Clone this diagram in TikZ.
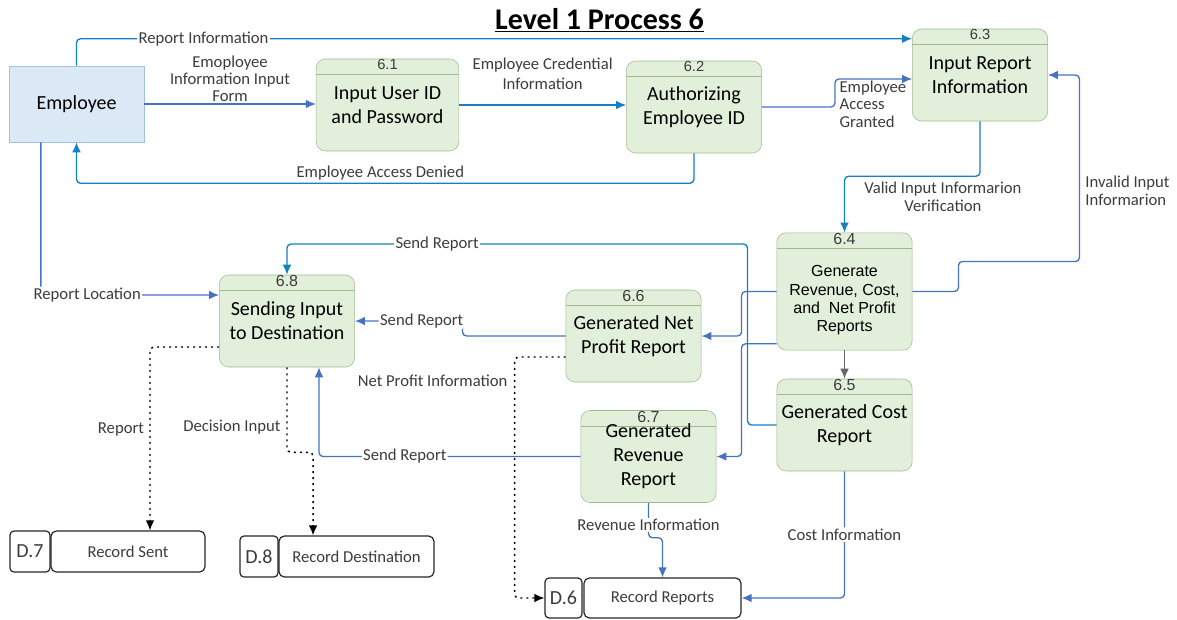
\documentclass[tikz,border=0pt]{standalone}
\usepackage{fontspec}
\setmainfont{Carlito}
\newfontfamily\arialfont{Liberation Sans}
\usetikzlibrary{arrows.meta}
\definecolor{flowA}{RGB}{22,128,194}
\definecolor{flowB}{RGB}{70,114,196}
\definecolor{procfill}{RGB}{226,239,218}
\definecolor{procline}{RGB}{160,184,140}
\definecolor{entfill}{RGB}{219,232,246}
\definecolor{entline}{RGB}{160,192,232}
\definecolor{labgray}{RGB}{60,60,60}
\begin{document}
\begin{tikzpicture}[x=0.75pt, y=-0.75pt, >={Latex[length=7.5pt,width=6.5pt]},
	proc/.style = {draw=procline, fill=procfill, rounded corners=7pt, minimum width=101.5pt, minimum height=69pt, align=center, inner sep=1pt, font=\fontsize{15}{18}\selectfont,
		path picture={\draw[procline] ([yshift=-11.5pt]path picture bounding box.north west) -- ([yshift=-11.5pt]path picture bounding box.north east);}},
	num/.style = {anchor=north, inner sep=0.5pt, text=labgray, font=\arialfont\fontsize{12}{12}\selectfont},
	smallnum/.style = {num, font=\arialfont\fontsize{11}{11}\selectfont},
	ent/.style = {draw=entline, fill=entfill, minimum width=101pt, minimum height=57pt, font=\fontsize{15}{18}\selectfont},
	sid/.style = {draw=black!85, line width=0.9pt, rounded corners=3pt, minimum height=30.75pt, inner sep=1pt, font=\fontsize{15}{17}\selectfont, text=labgray},
	smain/.style = {draw=black!85, line width=0.9pt, rounded corners=4pt, minimum height=30.75pt, inner sep=1pt, font=\fontsize{12.5}{14}\selectfont, text=labgray},
	lbl/.style = {font=\fontsize{12.5}{13}\selectfont, text=labgray, inner sep=1pt, align=center},
	flowA/.style = {->, draw=flowA, line width=1pt, rounded corners=3pt},
	flowB/.style = {->, draw=flowB, line width=1pt, rounded corners=3pt},
	dots/.style = {->, line width=1.1pt, dash pattern=on 1.5pt off 3pt, rounded corners=3pt}]

	\useasboundingbox (0,0) rectangle (1177,619);

	\node[font=\fontsize{22.5}{26}\selectfont\bfseries] (title) at (599.5,20) {\underline{Level 1 Process 6}};

	\node[ent] (emp) at (76.5,104) {Employee};

	\node[proc, minimum width=107pt, label={[smallnum]north:6.1}] (p61) at (387.5,105) {Input User ID\\and Password};
	\node[proc, label={[smallnum]north:6.2}] (p62) at (694,107) {Authorizing\\Employee ID};
	\node[proc, label={[smallnum]north:6.3}] (p63) at (980,75) {Input Report\\Information};
	\node[proc, minimum height=88pt, font=\arialfont\fontsize{12}{13.75}\selectfont, label={[num]north:6.4}] (p64) at (844.5,291.5) {\\[8pt]Generate\\Revenue, Cost,\\and~ Net Profit\\Reports};
	\node[proc, label={[num]north:6.5}] (p65) at (844.5,425) {Generated Cost\\Report};
	\node[proc, label={[num]north:6.6}] (p66) at (633.5,336) {Generated Net\\Profit Report};
	\node[proc, label={[num]north:6.7}] (p67) at (648.5,456.5) {Generated\\Revenue\\Report};
	\node[proc, label={[num]north:6.8}] (p68) at (287,321) {Sending Input\\to Destination};

	\node[sid, minimum width=30pt] (d7id) at (30,551.5) {D.7};
	\node[smain, minimum width=115.5pt] (d7) at (128,551.5) {Record Sent};
	\node[sid, minimum width=28.5pt] (d8id) at (259,556.5) {D.8};
	\node[smain, minimum width=116.25pt] (d8) at (356.5,556.5) {Record Destination};
	\node[sid, minimum width=27.75pt, minimum height=30pt] (d6id) at (563.5,598) {D.6};
	\node[smain, minimum width=117.75pt, minimum height=30pt] (d6) at (662.5,598) {Record Reports};

	\draw[flowA] (emp.north) |- node[lbl, fill=white, pos=0.576] {Report Information} ([yshift=-7.5pt]p63.north west);
	\draw[flowB] (emp.east) -- node[lbl, above=0pt] {Emoployee\\Information Input\\Form} (emp.east -| p61.west);
	\draw[flowA] (p61.east) -- node[lbl, above=10pt] {Employee Credential\\[2pt]Information} (p61.east -| p62.west);
	\draw[flowB] (p62.east) -- ++(73,0) |- ([yshift=-3pt]p63.west);
	\node[lbl, align=left, anchor=west] (lgrant) at (838,104) {Employee\\Access\\Granted};
	\draw[flowA] (p62.south) -- ++(0,30) -| node[lbl, above=1pt, pos=0.254] {Employee Access Denied} (emp.south);

	\draw[flowA] (p63.south) -- ++(0,55) -| node[lbl, below=3pt, pos=0.137] {Valid Input Informarion\\Verification} (p64.north);
	\draw[flowB] (p64.east) -- ++(46,0) -- ++(0,-30) -- ++(121,0) |- node[lbl, right=3pt, pos=0.19, align=left] {Invalid Input\\Informarion} (p63.east);
	\draw[->, draw=black!60, line width=1pt] (p64.south) -- (p65.north);
	\draw[flowB] (p64.west) -- ++(-35,0) |- (p66.east);
	\draw[flowB] ([yshift=5pt]p64.south west) -- ++(-35,0) |- (p67.east);

	\draw[flowA] (p65.west) -- ++(-29,0) -- ++(0,-181) -| node[lbl, fill=white, pos=0.337] {Send Report} (p68.north);
	\draw[flowB] (p66.west) -- ++(-103,0) |- node[lbl, fill=white, pos=0.69] {Send Report} (p68.east);
	\draw[flowB] (p67.west) -| node[lbl, fill=white, pos=0.336] {Send Report} ([xshift=24pt]p68.south);
	\draw[flowB] ([xshift=24pt]emp.south west) |- node[lbl, fill=white, pos=0.63] {Report Location} ([yshift=19.5pt]p68.west);

	\draw[dots] ([yshift=-19.5pt]p68.west) -| node[lbl, left=3pt, pos=0.725] {Report} ([xshift=16.5pt]d7.north);
	\draw[dots] (p68.south) -- ++(0,85) -| ([xshift=-32.6pt]d8.north);
	\node[lbl, anchor=east] (ldec) at (282,427) {Decision Input};
	\draw[dots] ([yshift=-15.75pt]p66.west) -- ++(-51,0) |- (d6id.west);
	\node[lbl, anchor=east] (lnet) at (509,381) {Net Profit Information};

	\draw[flowB] (p67.south) -- ++(0,35) -| (d6.north);
	\node[lbl, fill=white] (lrev) at (648.5,525) {Revenue Information};
	\draw[flowB] (p65.south) |- node[lbl, fill=white, pos=0.25] {Cost Information} (d6.east);
\end{tikzpicture}
\end{document}
